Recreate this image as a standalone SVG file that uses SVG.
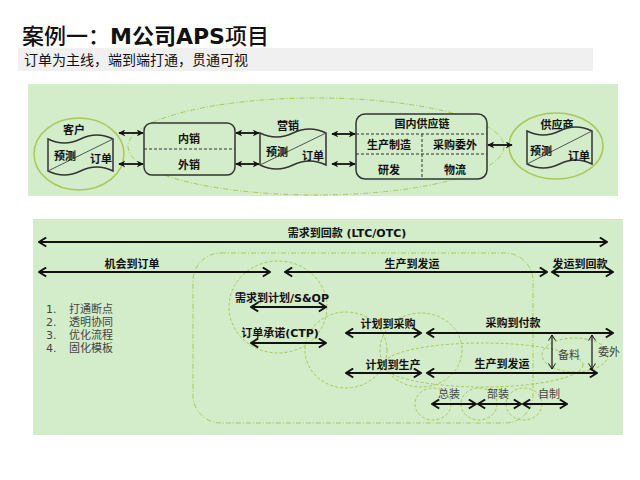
<svg xmlns="http://www.w3.org/2000/svg" width="640" height="480" viewBox="0 0 640 480">
<defs>
<style>
.t{font-family:"DejaVu Sans","Noto Sans CJK SC",sans-serif;font-size:11px;font-weight:bold;fill:#111;text-anchor:middle}
.n{font-family:"Noto Sans CJK SC",sans-serif;font-size:11px;fill:#444;text-anchor:middle}
.l{font-family:"DejaVu Sans","Noto Sans CJK SC",sans-serif;font-size:11px;fill:#444;text-anchor:start}
.box{fill:#d3ecca;stroke:#333;stroke-width:1.5}
.ell{fill:#d3ecca;stroke:#a9c953;stroke-width:1.5}
.dd{fill:none;stroke:#a9c953;stroke-width:1;stroke-dasharray:5 2 1 2}
.dc{fill:none;stroke:#a9c953;stroke-width:1;stroke-dasharray:3 2}
.sep{stroke:#333;stroke-width:1;stroke-dasharray:3 2}
.a{stroke:#111;stroke-width:2.2;fill:none;marker-start:url(#h);marker-end:url(#h)}
.as{stroke:#111;stroke-width:1.8;fill:none;marker-start:url(#s);marker-end:url(#s)}
.av{stroke:#111;stroke-width:1.2;fill:none;marker-start:url(#v);marker-end:url(#v)}
</style>
<marker id="h" viewBox="0 0 10 12" refX="9" refY="6" markerWidth="9" markerHeight="11" markerUnits="userSpaceOnUse" orient="auto-start-reverse"><path d="M1,1 L9,6 L1,11" fill="none" stroke="#111" stroke-width="2.2"/></marker>
<marker id="s" viewBox="0 0 10 10" refX="9" refY="5" markerWidth="7" markerHeight="7" markerUnits="userSpaceOnUse" orient="auto-start-reverse"><path d="M0,0 L10,5 L0,10 L3,5 Z" fill="#111"/></marker>
<marker id="v" viewBox="0 0 10 12" refX="9" refY="6" markerWidth="7" markerHeight="9" markerUnits="userSpaceOnUse" orient="auto-start-reverse"><path d="M1,1 L9,6 L1,11" fill="none" stroke="#111" stroke-width="1.4"/></marker>
</defs>
<rect width="640" height="480" fill="#fff"/>
<g id="title">
<text x="22" y="44" font-family="Noto Sans CJK SC,sans-serif" font-size="22" font-weight="500" fill="#111">案例一：<tspan font-family="DejaVu Sans,Noto Sans CJK SC,sans-serif" font-weight="bold">M公司APS</tspan>项目</text>
<rect x="18" y="48" width="575" height="23" fill="#f0f0f0"/>
<text x="24" y="65" font-family="Noto Sans CJK SC,sans-serif" font-size="14" fill="#111">订单为主线，端到端打通，贯通可视</text>
</g>
<g id="top-panel">
<rect x="28" y="84" width="590" height="112" fill="#d3ecca"/>
<ellipse class="dd" cx="316" cy="146.5" rx="188" ry="48.5"/>
</g>
<g id="customer">
<ellipse class="ell" cx="79" cy="154" rx="45" ry="36"/>
<text class="t" x="74" y="134">客户</text>
<path class="box" d="M48,139 Q64.25,147 80.5,139 T113,139 L113,171 Q96.75,163 80.5,171 T48,171 Z"/>
<line x1="48" y1="171" x2="113" y2="139" stroke="#555" stroke-width="1"/>
<text class="t" x="65" y="160">预测</text>
<text class="t" x="101" y="163">订单</text>
</g>
<g id="sales">
<rect class="box" x="144" y="123" width="91" height="52" rx="8"/>
<line class="sep" x1="144" y1="149" x2="235" y2="149"/>
<text class="t" x="189" y="143">内销</text>
<text class="t" x="189" y="169">外销</text>
</g>
<g id="marketing">
<text class="t" x="288" y="130">营销</text>
<path class="box" d="M260,133 Q276.5,141 293,133 T326,133 L326,165 Q309.5,157 293,165 T260,165 Z"/>
<line x1="260" y1="165" x2="326" y2="133" stroke="#555" stroke-width="1"/>
<text class="t" x="277" y="156">预测</text>
<text class="t" x="313" y="160">订单</text>
</g>
<g id="supply-chain">
<rect class="box" x="356" y="114" width="131" height="65" rx="9"/>
<line class="sep" x1="356" y1="134" x2="487" y2="134"/>
<line class="sep" x1="356" y1="154" x2="487" y2="154"/>
<line class="sep" x1="422" y1="134" x2="422" y2="179"/>
<text class="t" x="422" y="128">国内供应链</text>
<text class="t" x="389" y="149">生产制造</text>
<text class="t" x="455" y="149">采购委外</text>
<text class="t" x="389" y="174">研发</text>
<text class="t" x="455" y="174">物流</text>
</g>
<g id="supplier">
<ellipse class="ell" cx="556" cy="146" rx="47" ry="33"/>
<text class="t" x="557" y="129">供应商</text>
<path class="box" d="M527,131 Q543.25,139 559.5,131 T592,131 L592,164 Q575.75,156 559.5,164 T527,164 Z"/>
<line x1="527" y1="164" x2="592" y2="131" stroke="#555" stroke-width="1"/>
<text class="t" x="541" y="155">预测</text>
<text class="t" x="579" y="160">订单</text>
</g>
<g id="top-connectors">
<line class="as" x1="119" y1="133" x2="143" y2="133"/>
<line class="as" x1="119" y1="164" x2="143" y2="164"/>
<line class="as" x1="236" y1="133" x2="259" y2="133"/>
<line class="as" x1="236" y1="164" x2="259" y2="164"/>
<line class="as" x1="332" y1="134" x2="355" y2="134"/>
<line class="as" x1="332" y1="164" x2="355" y2="164"/>
<line class="as" x1="488" y1="145" x2="512" y2="145"/>
</g>
<g id="bottom-panel">
<rect x="33" y="219" width="590" height="216" fill="#d3ecca"/>
<rect class="dd" x="193" y="253" width="340" height="170" rx="28"/>
<ellipse class="dc" cx="278" cy="307" rx="49" ry="46"/>
<ellipse class="dc" cx="346" cy="350" rx="41" ry="38"/>
<ellipse class="dc" cx="421" cy="350" rx="41" ry="37"/>
<ellipse class="dc" cx="483" cy="365" rx="100" ry="22"/>
<ellipse class="dc" cx="575" cy="355" rx="33" ry="17"/>
<ellipse class="dc" cx="433" cy="404" rx="18" ry="16"/>
<ellipse class="dc" cx="479" cy="404" rx="18" ry="16"/>
<ellipse class="dc" cx="524" cy="404" rx="18" ry="16"/>
</g>
<g id="list">
<text class="l"><tspan x="46" y="313">1.</tspan><tspan x="69" y="313">打通断点</tspan><tspan x="46" y="326">2.</tspan><tspan x="69" y="326">透明协同</tspan><tspan x="46" y="339">3.</tspan><tspan x="69" y="339">优化流程</tspan><tspan x="46" y="352">4.</tspan><tspan x="69" y="352">固化模板</tspan></text>
</g>
<g id="labels">
<text class="t" x="347" y="237">需求到回款 (LTC/OTC)</text>
<text class="t" x="132" y="268">机会到订单</text>
<text class="t" x="412" y="268">生产到发运</text>
<text class="t" x="580" y="268">发运到回款</text>
<text class="t" x="282" y="302">需求到计划/S&amp;OP</text>
<text class="t" x="280" y="337">订单承诺(CTP)</text>
<text class="t" x="388" y="328">计划到采购</text>
<text class="t" x="393" y="369">计划到生产</text>
<text class="t" x="513" y="327">采购到付款</text>
<text class="t" x="502" y="368">生产到发运</text>
<text class="n" x="569" y="359">备料</text>
<text class="n" x="609" y="356">委外</text>
<text class="n" x="449" y="398">总装</text>
<text class="n" x="498" y="398">部装</text>
<text class="n" x="549" y="398">自制</text>
</g>
<g id="connectors">
<line class="a" x1="39" y1="242" x2="607" y2="242"/>
<line class="a" x1="39" y1="272" x2="270" y2="272"/>
<line class="a" x1="285" y1="272" x2="547" y2="272"/>
<line class="a" x1="552" y1="272" x2="613" y2="272"/>
<line class="a" x1="251" y1="307" x2="326" y2="307"/>
<line class="a" x1="251" y1="343" x2="326" y2="343"/>
<line class="a" x1="346" y1="333" x2="421" y2="333"/>
<line class="a" x1="346" y1="373" x2="421" y2="373"/>
<line class="a" x1="427" y1="333" x2="613" y2="333"/>
<line class="a" x1="427" y1="373" x2="597" y2="373"/>
<line class="av" x1="552" y1="335" x2="552" y2="369"/>
<line class="av" x1="592" y1="335" x2="592" y2="369"/>
<line class="a" x1="432" y1="404" x2="476" y2="404"/>
<line class="a" x1="478" y1="404" x2="521" y2="404"/>
<line class="a" x1="523" y1="404" x2="567" y2="404"/>
</g>
</svg>
